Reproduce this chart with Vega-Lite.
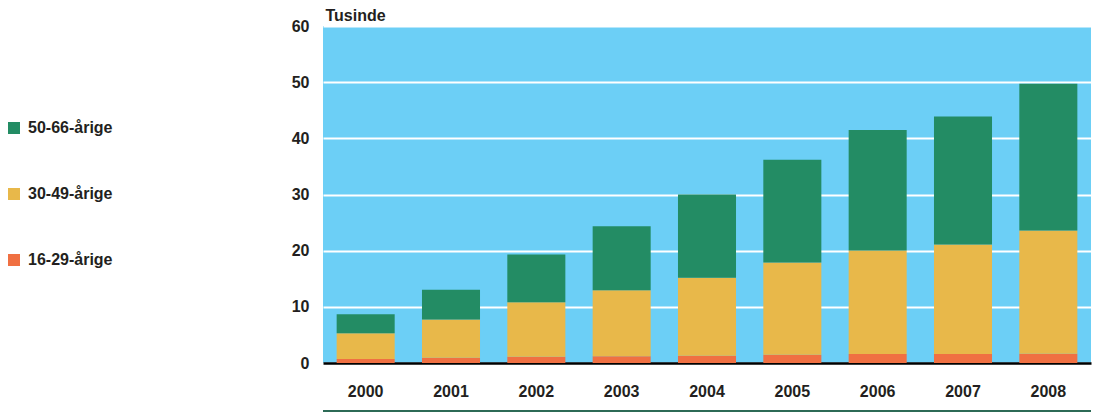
{
  "$schema": "https://vega.github.io/schema/vega-lite/v6.json",
  "width": 768,
  "height": 337,
  "autosize": {"type": "none"},
  "padding": {"left": 323, "top": 26, "right": 6, "bottom": 55},
  "background": "white",
  "config": {
    "view": {"fill": "#6ccff6", "stroke": null},
    "font": "Liberation Sans",
    "axis": {"labelFont": "Liberation Sans", "labelFontWeight": "bold", "labelFontSize": 16, "labelColor": "#231f20", "titleColor": "#231f20"},
    "legend": {"labelFont": "Liberation Sans", "labelFontWeight": "bold", "labelFontSize": 16, "labelColor": "#231f20"}
  },
  "data": {"values": [
    {"year": "2000", "group": "16-29-årige", "value": 0.7},
    {"year": "2000", "group": "30-49-årige", "value": 4.6},
    {"year": "2000", "group": "50-66-årige", "value": 3.4},
    {"year": "2001", "group": "16-29-årige", "value": 0.95},
    {"year": "2001", "group": "30-49-årige", "value": 6.8},
    {"year": "2001", "group": "50-66-årige", "value": 5.3},
    {"year": "2002", "group": "16-29-årige", "value": 1.1},
    {"year": "2002", "group": "30-49-årige", "value": 9.7},
    {"year": "2002", "group": "50-66-årige", "value": 8.5},
    {"year": "2003", "group": "16-29-årige", "value": 1.2},
    {"year": "2003", "group": "30-49-årige", "value": 11.75},
    {"year": "2003", "group": "50-66-årige", "value": 11.4},
    {"year": "2004", "group": "16-29-årige", "value": 1.3},
    {"year": "2004", "group": "30-49-årige", "value": 13.9},
    {"year": "2004", "group": "50-66-årige", "value": 14.8},
    {"year": "2005", "group": "16-29-årige", "value": 1.45},
    {"year": "2005", "group": "30-49-årige", "value": 16.45},
    {"year": "2005", "group": "50-66-årige", "value": 18.3},
    {"year": "2006", "group": "16-29-årige", "value": 1.6},
    {"year": "2006", "group": "30-49-årige", "value": 18.45},
    {"year": "2006", "group": "50-66-årige", "value": 21.45},
    {"year": "2007", "group": "16-29-årige", "value": 1.6},
    {"year": "2007", "group": "30-49-årige", "value": 19.5},
    {"year": "2007", "group": "50-66-årige", "value": 22.8},
    {"year": "2008", "group": "16-29-årige", "value": 1.65},
    {"year": "2008", "group": "30-49-årige", "value": 21.95},
    {"year": "2008", "group": "50-66-årige", "value": 26.1}
  ]},
  "layer": [
    {
      "mark": {"type": "bar"},
      "encoding": {
        "x": {
          "field": "year", "type": "ordinal",
          "scale": {"paddingInner": 0.32, "paddingOuter": 0.16},
          "axis": {"title": null, "labelAngle": 0, "ticks": false, "domainColor": "#000000", "domainWidth": 2.5, "labelPadding": 20, "grid": false}
        },
        "y": {
          "field": "value", "type": "quantitative", "stack": "zero",
          "scale": {"domain": [0, 60], "nice": false},
          "axis": {
            "values": [0, 10, 20, 30, 40, 50, 60],
            "title": "Tusinde", "titleAngle": 0, "titleAlign": "left", "titleBaseline": "alphabetic",
            "titleX": 2, "titleY": -6, "titleFont": "Liberation Sans", "titleFontWeight": "bold", "titleFontSize": 16,
            "domain": false, "ticks": false, "labelPadding": 14,
            "grid": true, "gridColor": "#ffffff", "gridWidth": 2, "gridOpacity": 1
          }
        },
        "color": {
          "field": "group", "type": "nominal",
          "scale": {"domain": ["50-66-årige", "30-49-årige", "16-29-årige"], "range": ["#238c64", "#e8b84a", "#f07042"]},
          "legend": {
            "title": null, "orient": "none", "legendX": -317, "legendY": 94, "direction": "vertical",
            "symbolType": "square", "symbolSize": 144, "symbolStrokeWidth": 0, "symbolOpacity": 1,
            "rowPadding": 50, "labelOffset": 6
          }
        },
        "order": {"field": "group", "sort": "ascending"}
      }
    },
    {
      "mark": {"type": "rule", "color": "#2d6b56", "strokeWidth": 1.5, "clip": false},
      "encoding": {
        "y": {"datum": -8.6, "type": "quantitative"}
      }
    }
  ]
}
